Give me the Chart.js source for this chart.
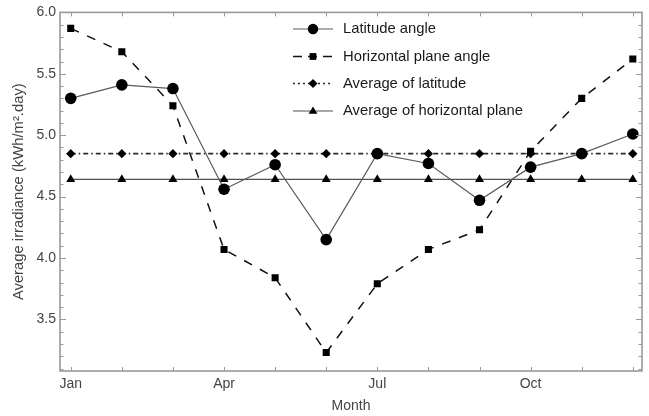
<!DOCTYPE html>
<html><head>
<meta charset="UTF-8">
<title>Average irradiance by month</title>
<script src="https://cdn.jsdelivr.net/npm/chart.js"></script>
<style>
  html, body { margin: 0; padding: 0; background: #fff; }
  #wrap { width: 649px; height: 416px; }
</style>
</head><body>
<div id="wrap"><canvas id="chart" width="649" height="416"></canvas></div>
<script>
// data
const months = ['Jan', 'Feb', 'Mar', 'Apr', 'May', 'Jun', 'Jul', 'Aug', 'Sep', 'Oct', 'Nov', 'Dec'];
const latitudeAngle = [5.30, 5.41, 5.38, 4.56, 4.76, 4.15, 4.85, 4.77, 4.47, 4.74, 4.85, 5.01];
const horizontalAngle = [5.87, 5.68, 5.24, 4.07, 3.84, 3.23, 3.79, 4.07, 4.23, 4.87, 5.30, 5.62];
const avgLatitude = [4.85, 4.85, 4.85, 4.85, 4.85, 4.85, 4.85, 4.85, 4.85, 4.85, 4.85, 4.85];
const avgHorizontal = [4.64, 4.64, 4.64, 4.64, 4.64, 4.64, 4.64, 4.64, 4.64, 4.64, 4.64, 4.64];
const xTickLabels = ['Jan', 'Apr', 'Jul', 'Oct'];
const yTickLabels = [3.5, 4.0, 4.5, 5.0, 5.5, 6.0];

const FRAME = '#999';
const TEXT = '#444';
const FONT = 'Liberation Sans, Arial, sans-serif';

const toPoints = (arr) => arr.map((v, i) => ({ x: i + 1, y: v }));

const datasets = [
  {
    label: 'Latitude angle',
    data: toPoints(latitudeAngle),
    borderColor: '#5a5a5a',
    borderWidth: 1.2,
    pointStyle: 'circle',
    pointRadius: 5.8,
    legendRadius: 5.2,
    legendDash: [],
  },
  {
    label: 'Horizontal plane angle',
    data: toPoints(horizontalAngle),
    borderColor: '#111',
    borderWidth: 1.5,
    borderDash: [9, 9],
    pointStyle: 'rect',
    pointRadius: 5,
    legendRadius: 4.8,
    legendDash: [9, 6],
  },
  {
    label: 'Average of latitude',
    data: toPoints(avgLatitude),
    borderColor: '#2a2a2a',
    borderWidth: 1.6,
    borderDash: [5, 3, 1.5, 3],
    pointStyle: 'rectRot',
    pointRadius: 4.6,
    legendRadius: 4.6,
    legendDash: [2, 3],
  },
  {
    label: 'Average of horizontal plane',
    data: toPoints(avgHorizontal),
    borderColor: '#505050',
    borderWidth: 1.2,
    pointStyle: 'triangle',
    pointRadius: 5.2,
    legendRadius: 4.6,
    legendDash: [],
  },
].map((d) => Object.assign({
  fill: false,
  tension: 0,
  pointBackgroundColor: '#000',
  pointBorderColor: '#000',
  pointBorderWidth: 0,
  pointHoverRadius: d.pointRadius,
}, d));

function drawMarker(ctx, style, x, y, r) {
  ctx.beginPath();
  if (style === 'circle') {
    ctx.arc(x, y, r, 0, Math.PI * 2);
  } else if (style === 'rect') {
    const s = r * Math.SQRT1_2;
    ctx.rect(x - s, y - s, 2 * s, 2 * s);
  } else if (style === 'rectRot') {
    ctx.moveTo(x - r, y); ctx.lineTo(x, y - r); ctx.lineTo(x + r, y); ctx.lineTo(x, y + r);
  } else if (style === 'triangle') {
    ctx.moveTo(x, y - r); ctx.lineTo(x + r * 0.95, y + r * 0.6); ctx.lineTo(x - r * 0.95, y + r * 0.6);
  }
  ctx.closePath();
  ctx.fillStyle = '#000';
  ctx.fill();
}

// frame with inward ticks on all four sides, like the original
const framePlugin = {
  id: 'frame',
  afterDraw(chart) {
    const { ctx, chartArea: a, scales: { x, y } } = chart;
    ctx.save();
    ctx.strokeStyle = FRAME;
    ctx.lineWidth = 1;
    months.forEach((m, i) => {
      const px = Math.round(x.getPixelForValue(i + 1)) + 0.5;
      ctx.beginPath();
      ctx.moveTo(px, a.bottom); ctx.lineTo(px, a.bottom - 4);
      ctx.moveTo(px, a.top); ctx.lineTo(px, a.top + 4);
      ctx.stroke();
    });
    for (let k = 31; k <= 60; k++) {
      const py = Math.round(y.getPixelForValue(k / 10)) + 0.5;
      const len = k % 5 === 0 ? 6 : 3.5;
      ctx.beginPath();
      ctx.moveTo(a.left, py); ctx.lineTo(a.left + len, py);
      ctx.moveTo(a.right, py); ctx.lineTo(a.right - len, py);
      ctx.stroke();
    }
    ctx.lineWidth = 1.6;
    ctx.strokeRect(a.left, a.top, a.right - a.left, a.bottom - a.top);
    ctx.restore();
  },
};

// legend: line sample + marker + label, inside the plot
const legendPlugin = {
  id: 'innerLegend',
  afterDraw(chart) {
    const { ctx } = chart;
    const rows = [29, 56.5, 83.5, 111];
    const x0 = 293, x1 = 333, tx = 343;
    ctx.save();
    chart.data.datasets.forEach((d, i) => {
      const ry = rows[i];
      ctx.strokeStyle = d.borderColor;
      ctx.lineWidth = d.borderWidth;
      ctx.setLineDash(d.legendDash);
      ctx.beginPath();
      ctx.moveTo(x0, ry); ctx.lineTo(x1, ry);
      ctx.stroke();
      ctx.setLineDash([]);
      drawMarker(ctx, d.pointStyle, (x0 + x1) / 2, ry, d.legendRadius);
      ctx.fillStyle = '#1a1a1a';
      ctx.font = '14.8px ' + FONT;
      ctx.textBaseline = 'middle';
      ctx.textAlign = 'left';
      ctx.fillText(d.label, tx, ry);
    });
    ctx.restore();
  },
};

new Chart(document.getElementById('chart').getContext('2d'), {
  type: 'line',
  data: { datasets },
  options: {
    responsive: false,
    animation: false,
    devicePixelRatio: 1,
    layout: { padding: { top: 10, right: 7, bottom: 0, left: 0 } },
    plugins: { legend: { display: false }, tooltip: { enabled: false } },
    scales: {
      x: {
        type: 'linear',
        min: 0.79,
        max: 12.18,
        grid: { display: false, drawTicks: false },
        border: { display: false },
        afterBuildTicks: (s) => {
          s.ticks = xTickLabels.map((m) => ({ value: months.indexOf(m) + 1 }));
        },
        afterFit: (s) => { s.height = 45; },
        ticks: {
          padding: 5,
          color: TEXT,
          font: { family: FONT, size: 14 },
          maxRotation: 0,
          autoSkip: false,
          callback: (v) => months[v - 1],
        },
        title: {
          display: true,
          text: 'Month',
          color: TEXT,
          font: { family: FONT, size: 14 },
          padding: { top: 0, bottom: 1 },
        },
      },
      y: {
        min: 3.08,
        max: 6.0,
        grid: { display: false, drawTicks: false },
        border: { display: false },
        afterBuildTicks: (s) => {
          s.ticks = yTickLabels.map((v) => ({ value: v }));
        },
        afterFit: (s) => { s.width = 60; },
        ticks: {
          padding: 4,
          color: TEXT,
          font: { family: FONT, size: 14 },
          callback: (v) => v.toFixed(1),
        },
        title: {
          display: true,
          text: 'Average irradiance (kWh/m².day)',
          color: TEXT,
          font: { family: FONT, size: 14.8 },
          padding: { top: 10, bottom: 0 },
        },
      },
    },
  },
  plugins: [framePlugin, legendPlugin],
});
</script>
</body></html>
